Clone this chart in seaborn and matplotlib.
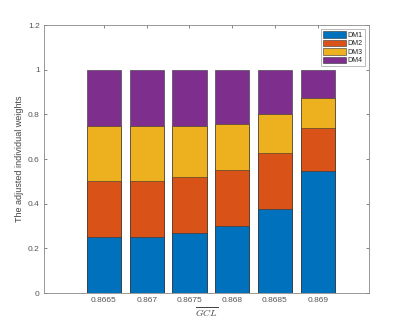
import matplotlib
matplotlib.use("Agg")
import matplotlib.pyplot as plt
import numpy as np
import pandas as pd
import seaborn as sns

# GCL levels and the adjusted weight of each decision maker
gcl_labels = ["0.8665", "0.867", "0.8675", "0.868", "0.8685", "0.869"]
dm1 = [0.250, 0.250, 0.270, 0.300, 0.375, 0.545]
dm2 = [0.250, 0.250, 0.250, 0.250, 0.250, 0.193]
dm3 = [0.250, 0.250, 0.230, 0.207, 0.176, 0.134]
dm4 = [0.250, 0.250, 0.250, 0.243, 0.199, 0.128]
series_names = ["DM1", "DM2", "DM3", "DM4"]
colors = ["#0072BD", "#D95319", "#EDB120", "#7E2F8E"]

sns.set_style("white")
plt.rcParams["font.family"] = ["Liberation Sans", "DejaVu Sans"]
plt.rcParams["mathtext.fontset"] = "cm"

fig = plt.figure(figsize=(4.09, 3.30), dpi=100)
ax = fig.add_axes([0.1076, 0.112, 0.7946, 0.812])

series = [dm1, dm2, dm3, dm4]
cum = np.cumsum(np.array(series), axis=0)

# Stacked bars: draw cumulative totals from the top segment downwards
for i in range(len(series) - 1, -1, -1):
    df = pd.DataFrame({"GCL": gcl_labels, "w": cum[i]})
    sns.barplot(data=df, x="GCL", y="w", order=gcl_labels, color=colors[i],
                saturation=1, width=0.8, edgecolor="#333333", linewidth=0.4,
                label=series_names[i], ax=ax, zorder=2 + (len(series) - i))

ax.set_xlim(-1.4, 6.2)
ax.set_ylim(0, 1.2)
ax.set_yticks([0, 0.2, 0.4, 0.6, 0.8, 1.0, 1.2])
ax.set_yticklabels(["0", "0.2", "0.4", "0.6", "0.8", "1", "1.2"])
ax.set_xticks(range(len(gcl_labels)))
ax.set_xticklabels(gcl_labels)

ax.tick_params(axis="both", direction="in", length=2.5, width=0.5,
               labelsize=6, colors="#555555", top=True, right=True,
               bottom=True, left=True, pad=3)
for sp in ax.spines.values():
    sp.set_visible(True)
    sp.set_color("#888888")
    sp.set_linewidth(0.6)

ax.set_xlabel(r"$\overline{GCL}$", fontsize=7, color="#444444", labelpad=1)
ax.set_ylabel("The adjusted individual weights", fontsize=6.5, color="#444444",
              labelpad=3)

handles, labels = ax.get_legend_handles_labels()
order = [labels.index(n) for n in series_names]
leg = ax.legend([handles[k] for k in order], [labels[k] for k in order],
                loc="upper right", fontsize=5, frameon=True, fancybox=False,
                handlelength=3.2, handleheight=1.0, handletextpad=0.3,
                labelspacing=0.15, borderpad=0.3, borderaxespad=0.6,
                edgecolor="#888888")
leg.get_frame().set_linewidth(0.5)

fig.savefig("out.png", dpi=100)
